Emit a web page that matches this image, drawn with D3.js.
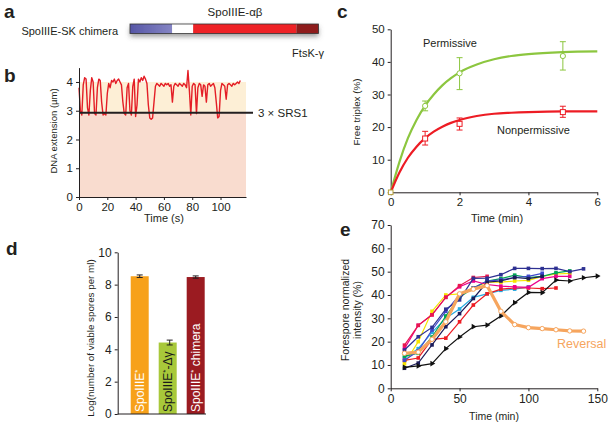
<!DOCTYPE html>
<html><head><meta charset="utf-8">
<script src="https://cdn.jsdelivr.net/npm/d3@7/dist/d3.min.js"></script>
<style>body{margin:0;background:#fff}svg{font-family:"Liberation Sans",Arial,Helvetica,sans-serif}text{font-weight:normal}</style>
</head><body>
<svg id="fig" width="612" height="427"></svg>
<script>
// ---------------- DATA ----------------
// panel a : domain boundaries of the chimera (relative units)
const aNames = ["SpoIIIE N-term", "linker", "SpoIIIE-αβ", "FtsK-γ"];
const aBounds = [0, 42, 63, 166, 188];

// panel b : DNA extension trace (µm), 1 s per point
const bExtension = [3.8,3.0,2.85,3.9,4.15,4.1,3.1,2.85,3.7,4.15,4.0,2.9,2.85,3.8,4.1,4.05,3.3,2.85,2.9,2.85,
 3.6,3.95,3.8,4.05,4.0,4.1,3.95,4.05,4.1,4.0,3.9,3.3,2.9,2.85,3.8,3.95,3.0,2.85,3.85,4.1,
 2.8,3.2,4.1,4.0,4.15,4.05,4.2,4.1,3.95,3.2,2.75,2.7,2.75,3.3,3.85,3.95,3.9,3.85,3.95,3.9,
 3.85,3.95,3.9,3.95,3.85,3.9,3.3,3.85,3.95,3.9,3.85,3.95,3.9,3.85,3.95,3.9,3.8,4.4,3.7,2.85,
 3.85,3.95,3.9,2.9,3.8,3.95,3.9,3.5,3.9,3.85,3.3,3.9,3.95,3.85,3.9,3.95,3.8,3.3,2.75,2.8,
 3.7,3.95,3.9,3.85,3.4,3.9,3.95,3.9,3.85,3.95,3.9,3.95,4.0,3.95,4.05];
const bThreshold = 2.93;
const bXTicks = [0,20,40,60,80,100];
const bYTicks = [0,1,2,3,4];

// panel c : free triplex (%)
const cTimes = [0,1,2,5];
const cPermMean = [0,26.5,36.5,41.8];
const cPermLo = [0,25.0,31.5,37.5];
const cPermHi = [0,28.0,41.3,46.2];
const cNonMean = [0,16.5,21.0,24.6];
const cNonLo = [0,14.5,19.1,23.0];
const cNonHi = [0,18.7,22.8,26.4];
const cFitT = [0,0.25,0.5,0.75,1,1.25,1.5,1.75,2,2.5,3,3.5,4,5,6];
const cPermFit = [0,9.2,16.6,22.2,26.6,30.0,32.8,35.0,36.8,39.2,40.8,41.8,42.4,43.0,43.2];
const cNonFit = [0,6.0,10.6,14.0,16.6,18.6,20.1,21.3,22.2,23.4,24.1,24.4,24.6,24.8,24.8];
const cXTicks = [0,2,4,6];
const cYTicks = [0,10,20,30,40,50];

// panel d : log(viable spores per ml)
const dCats = ["SpoIIIE*", "SpoIIIE*-Δγ", "SpoIIIE* chimera"];
const dValues = [8.52, 4.42, 8.47];
const dErr = [0.08, 0.15, 0.07];
const dYTicks = [0,2,4,6,8,10];

// panel e : forespore normalized intensity (%)
const eTimes = [10,20,30,40,50,60,70,80,90,100,110,120,130,140,150];
const eBlack   = [9.0,9.6,10.6,17.0,22.0,26.4,27.1,31.0,36.7,41.1,41.0,46.4,46.0,47.4,48.1];
const eDark    = [8.6,10.8,18.6,26.4,32.0,38.5,45.5,46.0,47.5,47.0,48.0];
const eNavy    = [16.4,22.1,26.1,33.9,37.9,47.1,47.2,48.7,51.4,51.4,51.3,51.4,50.0,51.2];
const eBlue    = [12.0,16.0,25.0,33.0,40.0,43.0,46.0,46.5,47.5,48.0,49.3];
const eGreen   = [13.8,15.0,22.0,31.0,39.0,43.0,46.0,47.0,48.5,47.5,48.0,49.5,50.3];
const eYellow  = [10.5,20.0,33.0,40.0,40.5,43.0,45.5,45.5,46.0,46.3,48.0,49.0,49.3];
const eMagenta = [17.0,27.0,31.5,39.0,43.5,46.0,44.5,43.8,43.5,43.3,47.0,48.0,48.0];
const eCrimson = [18.5,27.0,31.5,39.0,44.0,47.5,48.0];
const eRed     = [12.0,13.0,21.0,21.5,28.5,35.7,40.5,42.5,43.0,43.0,42.7,43.0];
const eCyan    = [13.0,17.0,24.0,30.0,34.0,39.0,40.5,42.0,42.5,43.5];
const eReversal= [15.0,15.5,21.0,28.5,40.5,42.5,44.0,33.0,27.3,26.0,25.6,25.1,24.6,24.5];
const eXTicks = [0,50,100,150];
const eYTicks = [0,10,20,30,40,50,60,70];

// ---------------- DRAW ----------------
const svg = d3.select("#fig");
const ink = "#231f20";
const FF = '"Liberation Sans",Arial,Helvetica,sans-serif';
const defs = svg.append("defs");
const g1 = defs.append("linearGradient").attr("id","blueGrad");
g1.append("stop").attr("offset","0%").attr("stop-color","#5656a6");
g1.append("stop").attr("offset","100%").attr("stop-color","#8585c4");
const sh = defs.append("filter").attr("id","shadow").attr("x","-10%").attr("y","-50%").attr("width","120%").attr("height","250%");
sh.append("feDropShadow").attr("dx",0).attr("dy",3).attr("stdDeviation",2.5).attr("flood-color","#555").attr("flood-opacity",0.6);

function panelLabel(t, x, y){
  svg.append("text").attr("x",x).attr("y",y).attr("font-size",19).style("font-weight","bold").attr("fill",ink).text(t);
}
function styleAxis(g, fs){
  g.attr("font-family",FF);
  g.selectAll("path,line").attr("stroke",ink).attr("stroke-width",1);
  g.selectAll("text").attr("fill",ink).attr("font-size",fs||11);
}
function label(x, y, txt, fs, opts){
  opts = opts || {};
  const t = svg.append("text").attr("font-size",fs).attr("fill",opts.fill||ink).attr("text-anchor",opts.anchor||"start");
  if(opts.rot) t.attr("transform",`translate(${x},${y}) rotate(-90)`);
  else t.attr("x",x).attr("y",y);
  t.text(txt);
  return t;
}
const intFmt = d3.format("d");

// ---- panel a ----
panelLabel("a", 4, 18);
const xA = d3.scaleLinear().domain([0,188]).range([130,318.5]);
const aColors = ["url(#blueGrad)","#ffffff","#ee2428","#8e1b1f"];
const aG = svg.append("g").attr("filter","url(#shadow)");
aNames.forEach((n,i)=>{
  aG.append("rect").attr("x",xA(aBounds[i])).attr("y",24).attr("width",xA(aBounds[i+1])-xA(aBounds[i])).attr("height",9.5)
    .attr("fill",aColors[i]);
});
svg.append("rect").attr("x",xA(0)).attr("y",24).attr("width",xA(188)-xA(0)).attr("height",9.5).attr("fill","none").attr("stroke","#333").attr("stroke-width",0.8);
label(118, 35, "SpoIIIE-SK chimera", 11, {anchor:"end"});
label(235, 16, "SpoIIIE-αβ", 11.5, {anchor:"middle"});
label(308, 57, "FtsK-γ", 11, {anchor:"middle"});

// ---- panel b ----
panelLabel("b", 4, 82);
const xB = d3.scaleLinear().domain([0,118]).range([79,246]);
const yB = d3.scaleLinear().domain([0,4.5]).range([197,67.6]);
svg.append("rect").attr("x",xB(0)).attr("y",yB(bThreshold)).attr("width",xB(118)-xB(0)).attr("height",yB(0)-yB(bThreshold)).attr("fill","#f9dccf");
svg.append("rect").attr("x",xB(0)).attr("y",yB(4)).attr("width",xB(118)-xB(0)).attr("height",yB(bThreshold)-yB(4)).attr("fill","#fdefd6");
svg.append("path").datum(bExtension).attr("fill","none").attr("stroke","#e41e26").attr("stroke-width",1.4).attr("stroke-linejoin","round")
  .attr("d", d3.line().x((d,i)=>xB(i)).y(d=>yB(d)));
svg.append("line").attr("x1",xB(0)).attr("x2",253).attr("y1",yB(bThreshold)).attr("y2",yB(bThreshold)).attr("stroke",ink).attr("stroke-width",2);
label(258, yB(bThreshold)+4, "3 × SRS1", 11.5);
const bxa = svg.append("g").attr("transform",`translate(0,${yB(0)})`).call(d3.axisBottom(xB).tickValues(bXTicks).tickFormat(intFmt).tickSize(3).tickSizeOuter(0));
styleAxis(bxa, 11.5);
const bya = svg.append("g").attr("transform",`translate(${xB(0)},0)`).call(d3.axisLeft(yB).tickValues(bYTicks).tickFormat(intFmt).tickSize(3).tickSizeOuter(0));
styleAxis(bya, 11.5);
label(164, 222, "Time (s)", 11, {anchor:"middle"});
label(57, 131, "DNA extension (µm)", 9.5, {anchor:"middle", rot:true});

// ---- panel c ----
panelLabel("c", 337, 18);
const xC = d3.scaleLinear().domain([0,6]).range([390.7,597.3]);
const yC = d3.scaleLinear().domain([0,50]).range([192.3,29.3]);
const cxa = svg.append("g").attr("transform",`translate(0,${yC(0)})`).call(d3.axisBottom(xC).tickValues(cXTicks).tickFormat(intFmt).tickSize(3).tickSizeOuter(0));
styleAxis(cxa, 11.5);
const cya = svg.append("g").attr("transform",`translate(${xC(0)},0)`).call(d3.axisLeft(yC).tickValues(cYTicks).tickFormat(intFmt).tickSize(3).tickSizeOuter(0));
styleAxis(cya, 11.5);
const cLine = d3.line().x((d,i)=>xC(cFitT[i])).y(d=>yC(d)).curve(d3.curveMonotoneX);
svg.append("path").datum(cPermFit).attr("fill","none").attr("stroke","#8cc63f").attr("stroke-width",2.2).attr("d",cLine);
svg.append("path").datum(cNonFit).attr("fill","none").attr("stroke","#ed1c24").attr("stroke-width",2.2).attr("d",cLine);
function errPts(mean, lo, hi, color, shape){
  cTimes.forEach((t,i)=>{
    if(i===0) return;
    const x = xC(t);
    svg.append("line").attr("x1",x).attr("x2",x).attr("y1",yC(lo[i])).attr("y2",yC(hi[i])).attr("stroke",color).attr("stroke-width",1);
    [lo[i],hi[i]].forEach(v=>svg.append("line").attr("x1",x-3).attr("x2",x+3).attr("y1",yC(v)).attr("y2",yC(v)).attr("stroke",color).attr("stroke-width",1));
    if(shape==="circle") svg.append("circle").attr("cx",x).attr("cy",yC(mean[i])).attr("r",2.6).attr("fill","#fff").attr("stroke",color).attr("stroke-width",1);
    else svg.append("rect").attr("x",x-2.5).attr("y",yC(mean[i])-2.5).attr("width",5).attr("height",5).attr("fill","#fff").attr("stroke",color).attr("stroke-width",1);
  });
}
errPts(cPermMean,cPermLo,cPermHi,"#8cc63f","circle");
errPts(cNonMean,cNonLo,cNonHi,"#ed1c24","square");
svg.append("rect").attr("x",xC(0)-2.3).attr("y",yC(0)-2.3).attr("width",4.6).attr("height",4.6).attr("fill","#fff").attr("stroke","#b5a03a").attr("stroke-width",1);
label(423, 47, "Permissive", 11);
label(497, 134, "Nonpermissive", 11);
label(497, 222, "Time (min)", 11, {anchor:"middle"});
label(360, 112, "Free triplex (%)", 9.8, {anchor:"middle", rot:true});

// ---- panel d ----
panelLabel("d", 6, 255);
const yD = d3.scaleLinear().domain([0,10]).range([414,252.3]);
const xD = d3.scaleBand().domain(dCats).range([125.7,209.7]).paddingInner(0.357).paddingOuter(0.179);
const dColors = ["#f7a11a","#a8c83a","#9b1b21"];
const dText = ["#ffffff","#1a1a1a","#ffffff"];
dCats.forEach((c,i)=>{
  svg.append("rect").attr("x",xD(c)).attr("y",yD(dValues[i])).attr("width",xD.bandwidth()).attr("height",yD(0)-yD(dValues[i])).attr("fill",dColors[i]);
  const cx = xD(c)+xD.bandwidth()/2 + (i===1?2:0);
  svg.append("line").attr("x1",cx).attr("x2",cx).attr("y1",yD(dValues[i]-dErr[i])).attr("y2",yD(dValues[i]+dErr[i])).attr("stroke",ink).attr("stroke-width",1);
  [dValues[i]-dErr[i], dValues[i]+dErr[i]].forEach(v=>svg.append("line").attr("x1",cx-3).attr("x2",cx+3).attr("y1",yD(v)).attr("y2",yD(v)).attr("stroke",ink).attr("stroke-width",1));
  const tx = xD(c)+xD.bandwidth()/2;
  const t = svg.append("text").attr("transform",`translate(${tx+4.2},${yD(0)-2}) rotate(-90)`).attr("font-size",12).attr("fill",dText[i]);
  const parts = c.split("*");
  t.append("tspan").text(parts[0]);
  t.append("tspan").attr("baseline-shift","super").attr("font-size",8).text("*");
  t.append("tspan").text(parts[1]);
});
const dya = svg.append("g").attr("transform",`translate(${117.7},0)`).call(d3.axisLeft(yD).tickValues(dYTicks).tickFormat(intFmt).tickSize(3).tickSizeOuter(0));
styleAxis(dya, 12);
svg.append("line").attr("x1",117.7).attr("x2",206).attr("y1",yD(0)).attr("y2",yD(0)).attr("stroke",ink).attr("stroke-width",1);
label(94, 338, "Log(number of viable spores per ml)", 9.8, {anchor:"middle", rot:true});

// ---- panel e ----
panelLabel("e", 340, 236);
const xE = d3.scaleLinear().domain([0,150]).range([390.7,597.3]);
const yE = d3.scaleLinear().domain([0,70]).range([388.3,225]);
const exa = svg.append("g").attr("transform",`translate(0,${yE(0)})`).call(d3.axisBottom(xE).tickValues(eXTicks).tickFormat(intFmt).tickSize(3).tickSizeOuter(0));
styleAxis(exa, 12);
const eya = svg.append("g").attr("transform",`translate(${xE(0)},0)`).call(d3.axisLeft(yE).tickValues(eYTicks).tickFormat(intFmt).tickSize(3).tickSizeOuter(0));
styleAxis(eya, 12);
const eSeries = [
  {v:eYellow, c:"#f5e400"},
  {v:eCyan, c:"#27aae1"},
  {v:eRed, c:"#ed1c24"},
  {v:eGreen, c:"#00a651"},
  {v:eBlue, c:"#3f48cc"},
  {v:eMagenta, c:"#ec008c"},
  {v:eCrimson, c:"#e8174f"},
  {v:eDark, c:"#1c1c5a"},
  {v:eNavy, c:"#2e3192"},
  {v:eBlack, c:"#111111", tri:true}
];
const eLine = d3.line().x((d,i)=>xE(eTimes[i])).y(d=>yE(d));
eSeries.forEach(s=>{
  svg.append("path").datum(s.v).attr("fill","none").attr("stroke",s.c).attr("stroke-width",1.2).attr("d",eLine);
  s.v.forEach((d,i)=>{
    if(s.tri) svg.append("path").attr("transform",`translate(${xE(eTimes[i])},${yE(d)}) rotate(90)`).attr("d",d3.symbol(d3.symbolTriangle,14)()).attr("fill",s.c);
    else svg.append("rect").attr("x",xE(eTimes[i])-1.8).attr("y",yE(d)-1.8).attr("width",3.6).attr("height",3.6).attr("fill",s.c);
  });
});
svg.append("path").datum(eReversal).attr("fill","none").attr("stroke","#f6a55e").attr("stroke-width",3.2).attr("d",eLine);
eReversal.forEach((d,i)=>svg.append("circle").attr("cx",xE(eTimes[i])).attr("cy",yE(d)).attr("r",2.2).attr("fill","#fff").attr("stroke","#f6a55e").attr("stroke-width",1));
label(557, 348, "Reversal", 12.5, {fill:"#f6a55e"});
label(494, 420, "Time (min)", 10.5, {anchor:"middle"});
const yl = svg.append("text").attr("transform","translate(349,310) rotate(-90)").attr("text-anchor","middle").attr("font-size",10.5).attr("fill",ink);
yl.append("tspan").attr("x",0).attr("dy",0).text("Forespore normalized");
yl.append("tspan").attr("x",0).attr("dy",12).text("intensity (%)");
</script></body></html>
